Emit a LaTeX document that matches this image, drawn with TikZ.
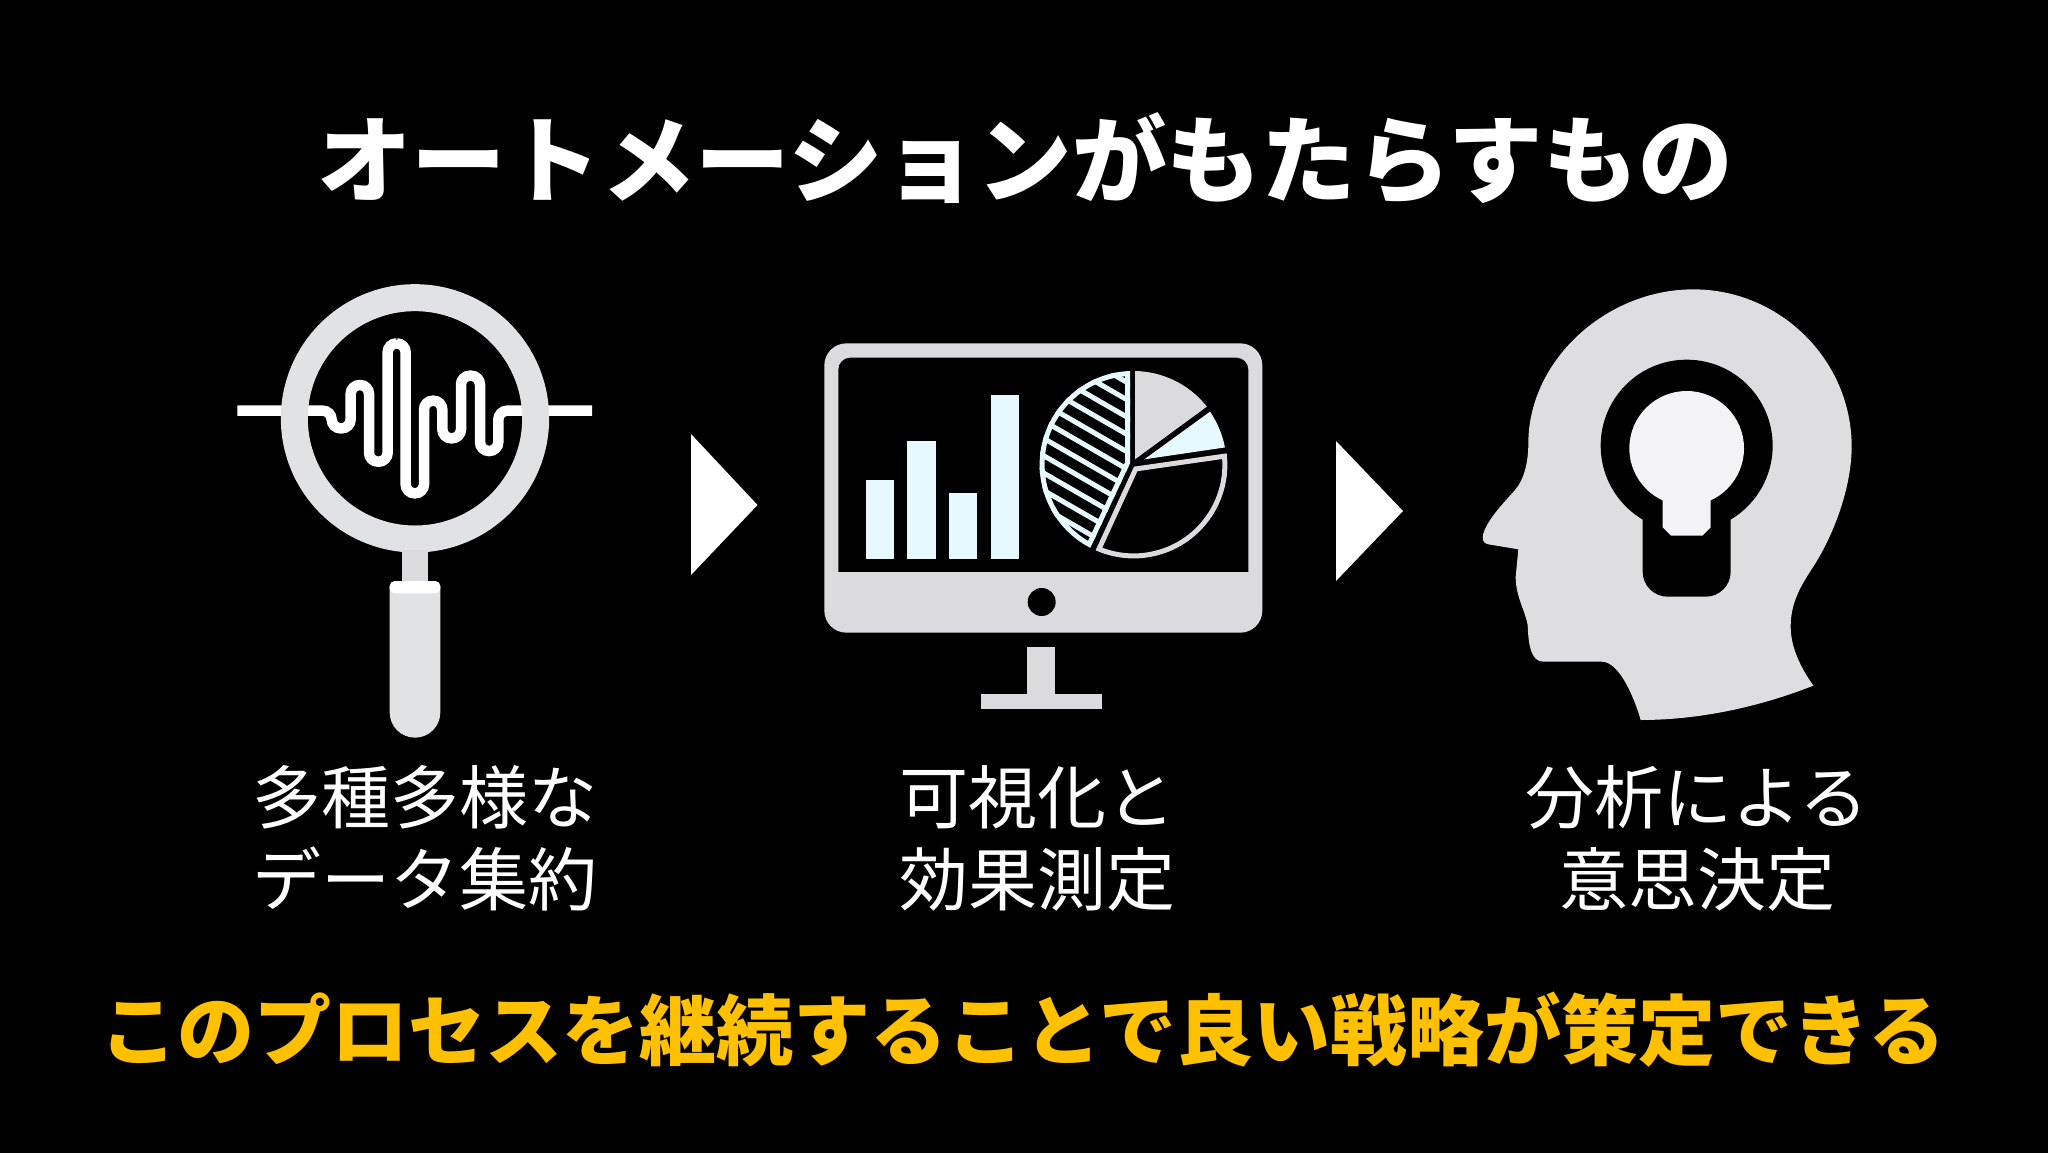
\documentclass[tikz,border=0pt]{standalone}
\usepackage{fontspec}
\setmainfont{Noto Sans CJK JP}
\definecolor{ringgray}{HTML}{E0E2E3}
\definecolor{screengray}{HTML}{DBDADC}
\definecolor{headgray}{HTML}{DEDDE0}
\definecolor{bulbwhite}{HTML}{F3F3F5}
\definecolor{barblue}{HTML}{E6F9FE}
\definecolor{goldtext}{HTML}{FFC000}
\tikzset{
	titletext/.style={text=white,font=\fontsize{94.6}{114}\selectfont\bfseries},
	labeltext/.style={text=white,align=center,font=\fontsize{69}{81.5}\selectfont},
	goldline/.style={text=goldtext,font=\fontsize{77}{92}\selectfont\bfseries},
	arrowmark/.style={fill=white},
	zoomed/.style={shift={(#1)},scale=0.33333}
}
\begin{document}
\begin{tikzpicture}[x=1pt,y=-1pt]
			%%%%% START %%%%%
			
			\useasboundingbox (0, 0) rectangle (2048, 1152);
			\fill[black] (-5, -5) rectangle (2053, 1157);
			
			\node[titletext] (title) at (1025, 159) {オートメーションがもたらすもの};
			
			%%%%% magnifier %%%%%
			\begin{scope}[zoomed={220,270}]
				\draw[white, line width=10.5pt, rounded corners=9pt] (52, 422) -- (335, 422) -- (335, 475) -- (392, 475) -- (392, 345) -- (447, 345) -- (447, 575) -- (503, 575) -- (503, 220) -- (557, 220) -- (557, 670) -- (612, 670) -- (612, 392) -- (667, 392) -- (667, 505) -- (723, 505) -- (723, 317) -- (780, 317) -- (780, 543) -- (835, 543) -- (835, 422) -- (1116, 422);
				\draw[ringgray, line width=27pt] (585, 445) circle (362);
				\fill[screengray] (547, 840) rectangle (623, 945);
				\fill[ringgray] (509, 950) -- (509, 1327) arc (180:0:76) -- (661, 950) -- cycle;
				\fill[white, rounded corners=5pt] (509, 970) -- (509, 933) -- (661, 933) -- (661, 970) -- cycle;
			\end{scope}
			
			%%%%% monitor %%%%%
			\begin{scope}[zoomed={810,330}]
				\fill[screengray, rounded corners=22pt] (43, 40) rectangle (1357, 908);
				\fill[black, rounded corners=12pt] (85, 83) -- (1315, 83) -- (1315, 760) -- (85, 760) -- cycle;
				\fill[screengray] (60, 727) rectangle (1340, 780);
				\fill[black] (695, 816) circle (42);
				\fill[screengray] (652, 950) rectangle (735, 1100);
				\fill[screengray] (512, 1093) rectangle (877, 1136);
				
				\fill[barblue] (167, 450) rectangle (252, 686);
				\fill[barblue] (292, 333) rectangle (377, 686);
				\fill[barblue] (417, 488) rectangle (502, 686);
				\fill[barblue] (542, 195) rectangle (627, 686);
				
				% pie
				\begin{scope}
					\clip (960, 400) -- (960, 123) arc (268:117.3:281) -- cycle;
					\foreach \k in {-1,...,11}
						\draw[barblue, line width=5pt] (680, 521-52*\k) -- (980, 694-52*\k);
					\draw[barblue, line width=10pt] (960, 400) -- (960, 123) arc (268:117.3:281) -- cycle;
				\end{scope}
				\fill[screengray] (975, 388) -- (975, 123) arc (-89:-38.3:281) -- cycle;
				\fill[barblue] (1003, 388) -- (1200, 245) arc (-34.6:-10.7:281) -- cycle;
				\begin{scope}
					\clip (972, 410) -- (1250, 370) arc (-7:114:281) -- cycle;
					\draw[screengray, line width=10pt] (972, 410) -- (1250, 370) arc (-7:114:281) -- cycle;
				\end{scope}
			\end{scope}
			
			%%%%% head %%%%%
			\begin{scope}[zoomed={1460,270}]
				\fill[headgray] (700, 58) .. controls (960, 58) and (1175, 270) .. (1175, 530)
					.. controls (1175, 640) and (1130, 780) .. (1060, 890)
					.. controls (1020, 950) and (992, 1000) .. (992, 1070)
					.. controls (992, 1130) and (1020, 1190) .. (1060, 1247)
					.. controls (900, 1310) and (720, 1350) .. (542, 1350)
					.. controls (525, 1290) and (480, 1175) .. (425, 1175)
					-- (250, 1175)
					.. controls (215, 1175) and (205, 1130) .. (203, 1065)
					.. controls (195, 1020) and (167, 980) .. (167, 920)
					-- (175, 838) -- (85, 823)
					.. controls (70, 820) and (65, 810) .. (70, 790)
					.. controls (85, 745) and (130, 700) .. (165, 660)
					.. controls (195, 625) and (205, 570) .. (205, 520)
					.. controls (205, 270) and (440, 58) .. (700, 58) -- cycle;
				\fill[black] (680, 527) circle (258);
				\fill[black, rounded corners=25pt] (548, 650) -- (812, 650) -- (812, 980) -- (548, 980) -- cycle;
				\fill[bulbwhite] (680, 535) circle (172);
				\fill[bulbwhite] (608, 650) -- (752, 650) -- (752, 772) -- (727, 797) -- (633, 797) -- (608, 772) -- cycle;
			\end{scope}
			
			%%%%% arrows %%%%%
			\fill[arrowmark] (691, 434) -- (757.5, 505) -- (691, 575) -- cycle;
			\fill[arrowmark] (1336, 441) -- (1403, 511) -- (1336, 581) -- cycle;
			
			\node[labeltext] (datalabel) at (425, 838.5) {多種多様な\\データ集約};
			\node[labeltext] (viewlabel) at (1037.5, 838.5) {可視化と\\効果測定};
			\node[labeltext] (thinklabel) at (1697, 838.5) {分析による\\意思決定};
			
			\node[goldline] (strategyline) at (1023, 1030) {このプロセスを継続することで良い戦略が策定できる};
			
			%%%%% END %%%%%
		\end{tikzpicture}
\end{document}
